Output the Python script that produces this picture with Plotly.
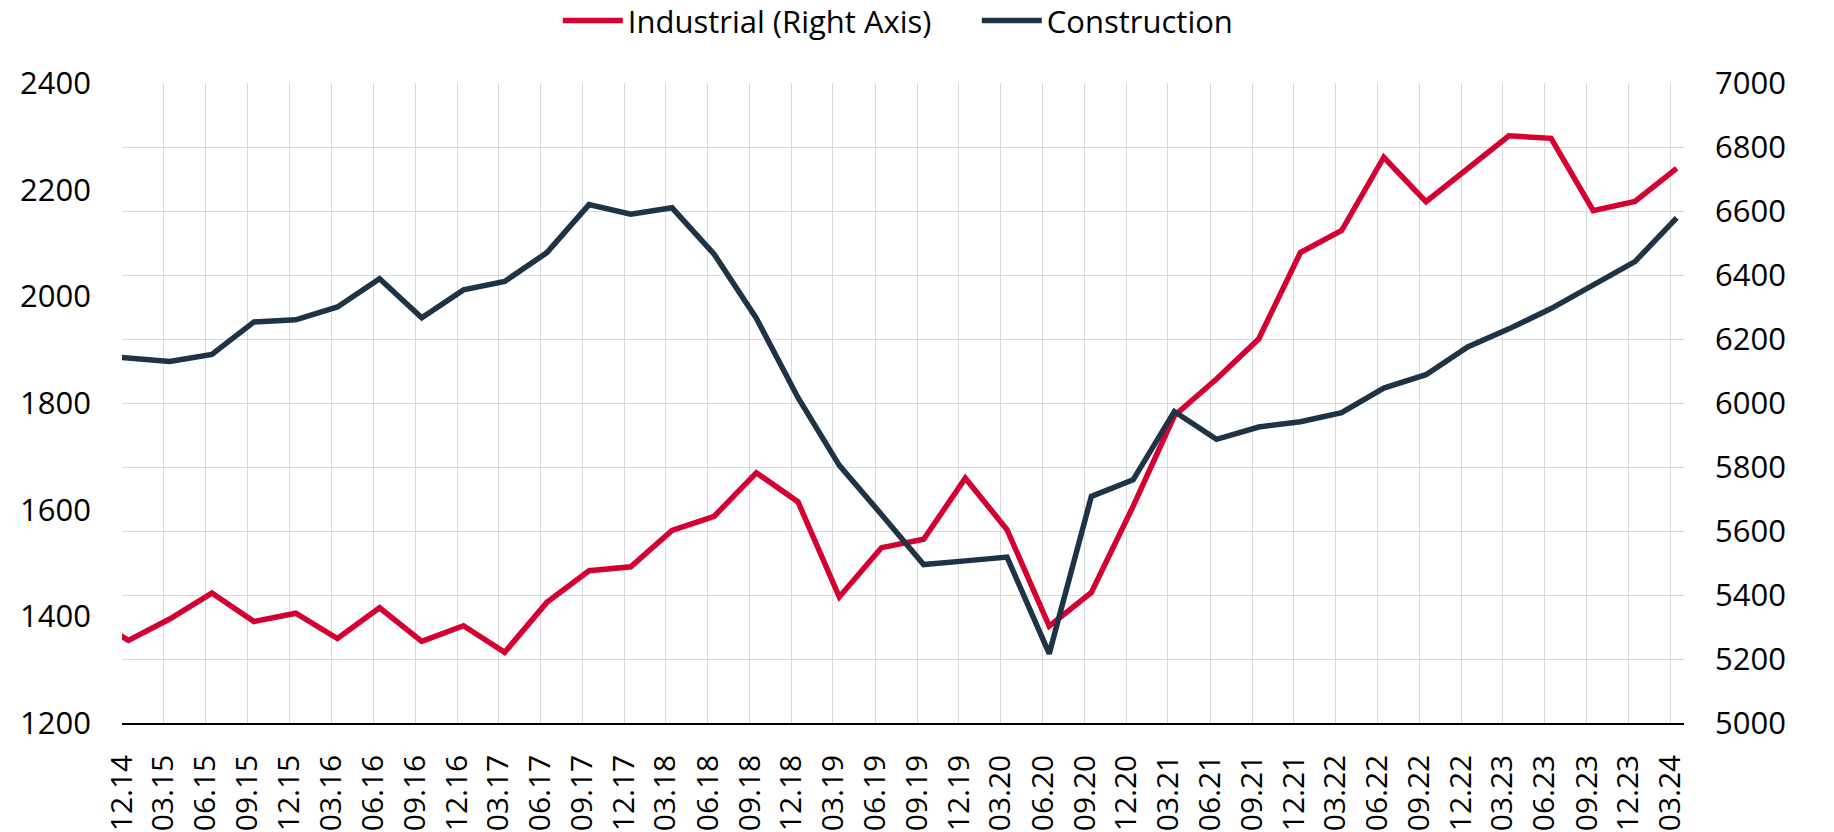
import plotly.graph_objects as go
from datetime import date

# Quarter labels (MM.YY); the 09.14 point lies just left of the visible range
quarters = ["09.14", "12.14", "03.15", "06.15", "09.15", "12.15", "03.16", "06.16", "09.16",
            "12.16", "03.17", "06.17", "09.17", "12.17", "03.18", "06.18", "09.18", "12.18",
            "03.19", "06.19", "09.19", "12.19", "03.20", "06.20", "09.20", "12.20", "03.21",
            "06.21", "09.21", "12.21", "03.22", "06.22", "09.22", "12.22", "03.23", "06.23",
            "09.23", "12.23", "03.24"]

construction = [1891, 1884, 1878, 1891, 1952, 1956, 1980, 2033, 1960, 2012, 2028, 2082, 2172,
                2154, 2166, 2079, 1959, 1810, 1683, 1591, 1497, 1504, 1511, 1330, 1625, 1656,
                1784, 1732, 1755, 1765, 1782, 1828, 1853, 1905, 1939, 1977, 2021, 2065, 2147]

industrial = [5340, 5258, 5325, 5406, 5317, 5343, 5264, 5360, 5255, 5304, 5221, 5377, 5476,
              5488, 5602, 5646, 5782, 5691, 5394, 5548, 5574, 5765, 5604, 5303, 5408, 5677,
              5960, 6075, 6200, 6470, 6539, 6768, 6629, 6732, 6835, 6827, 6601, 6630, 6733]

# observations are dated mid-month of the quarter's last month
dates = [date(2000 + int(q[3:]), int(q[:2]), 15).isoformat() for q in quarters]

RED = "#D50032"
NAVY = "#1F3346"
FONT = "Open Sans"

fig = go.Figure()
fig.add_trace(go.Scatter(x=dates, y=industrial, name="Industrial (Right Axis)", mode="lines",
                         line=dict(color=RED, width=5.5), yaxis="y"))
fig.add_trace(go.Scatter(x=dates, y=construction, name="Construction", mode="lines",
                         line=dict(color=NAVY, width=5.5), yaxis="y2"))

fig.update_layout(
    width=1834, height=832,
    margin=dict(l=122, r=150, t=83, b=109, autoexpand=False),
    paper_bgcolor="white", plot_bgcolor="white",
    font=dict(family=FONT, size=30, color="#000000"),
    showlegend=True,
    legend=dict(orientation="h", x=0.279, xanchor="left", y=1.097, yanchor="middle",
                font=dict(family=FONT, size=31, color="#000000"), itemwidth=60,
                entrywidth=344, entrywidthmode="pixels", traceorder="normal"),
    xaxis=dict(type="date", range=["2014-12-01", "2024-03-31"],
               tick0="2014-12-01", dtick="M3", tickformat="%m.%y", tickangle=-90,
               showgrid=True, gridcolor="#D9D9D9", gridwidth=1.2,
               showline=True, linecolor="#000000", linewidth=1.5,
               ticks="", ticklabelstandoff=18, zeroline=False, automargin=False,
               tickfont=dict(family=FONT, size=30)),
    yaxis=dict(side="right", range=[5000, 7000], dtick=200, showgrid=True,
               gridcolor="#D9D9D9", gridwidth=1.2, zeroline=False, showline=False,
               ticks="", ticklabelstandoff=30, automargin=False,
               tickfont=dict(family=FONT, size=31)),
    yaxis2=dict(side="left", overlaying="y", range=[1200, 2400], dtick=200, showgrid=False,
                zeroline=False, showline=False, ticks="", ticklabelstandoff=30,
                automargin=False, tickfont=dict(family=FONT, size=31)),
)

fig.write_html("out.html", config={"displayModeBar": False},
               post_script="document.body.style.margin='0';document.body.style.overflow='hidden';")
